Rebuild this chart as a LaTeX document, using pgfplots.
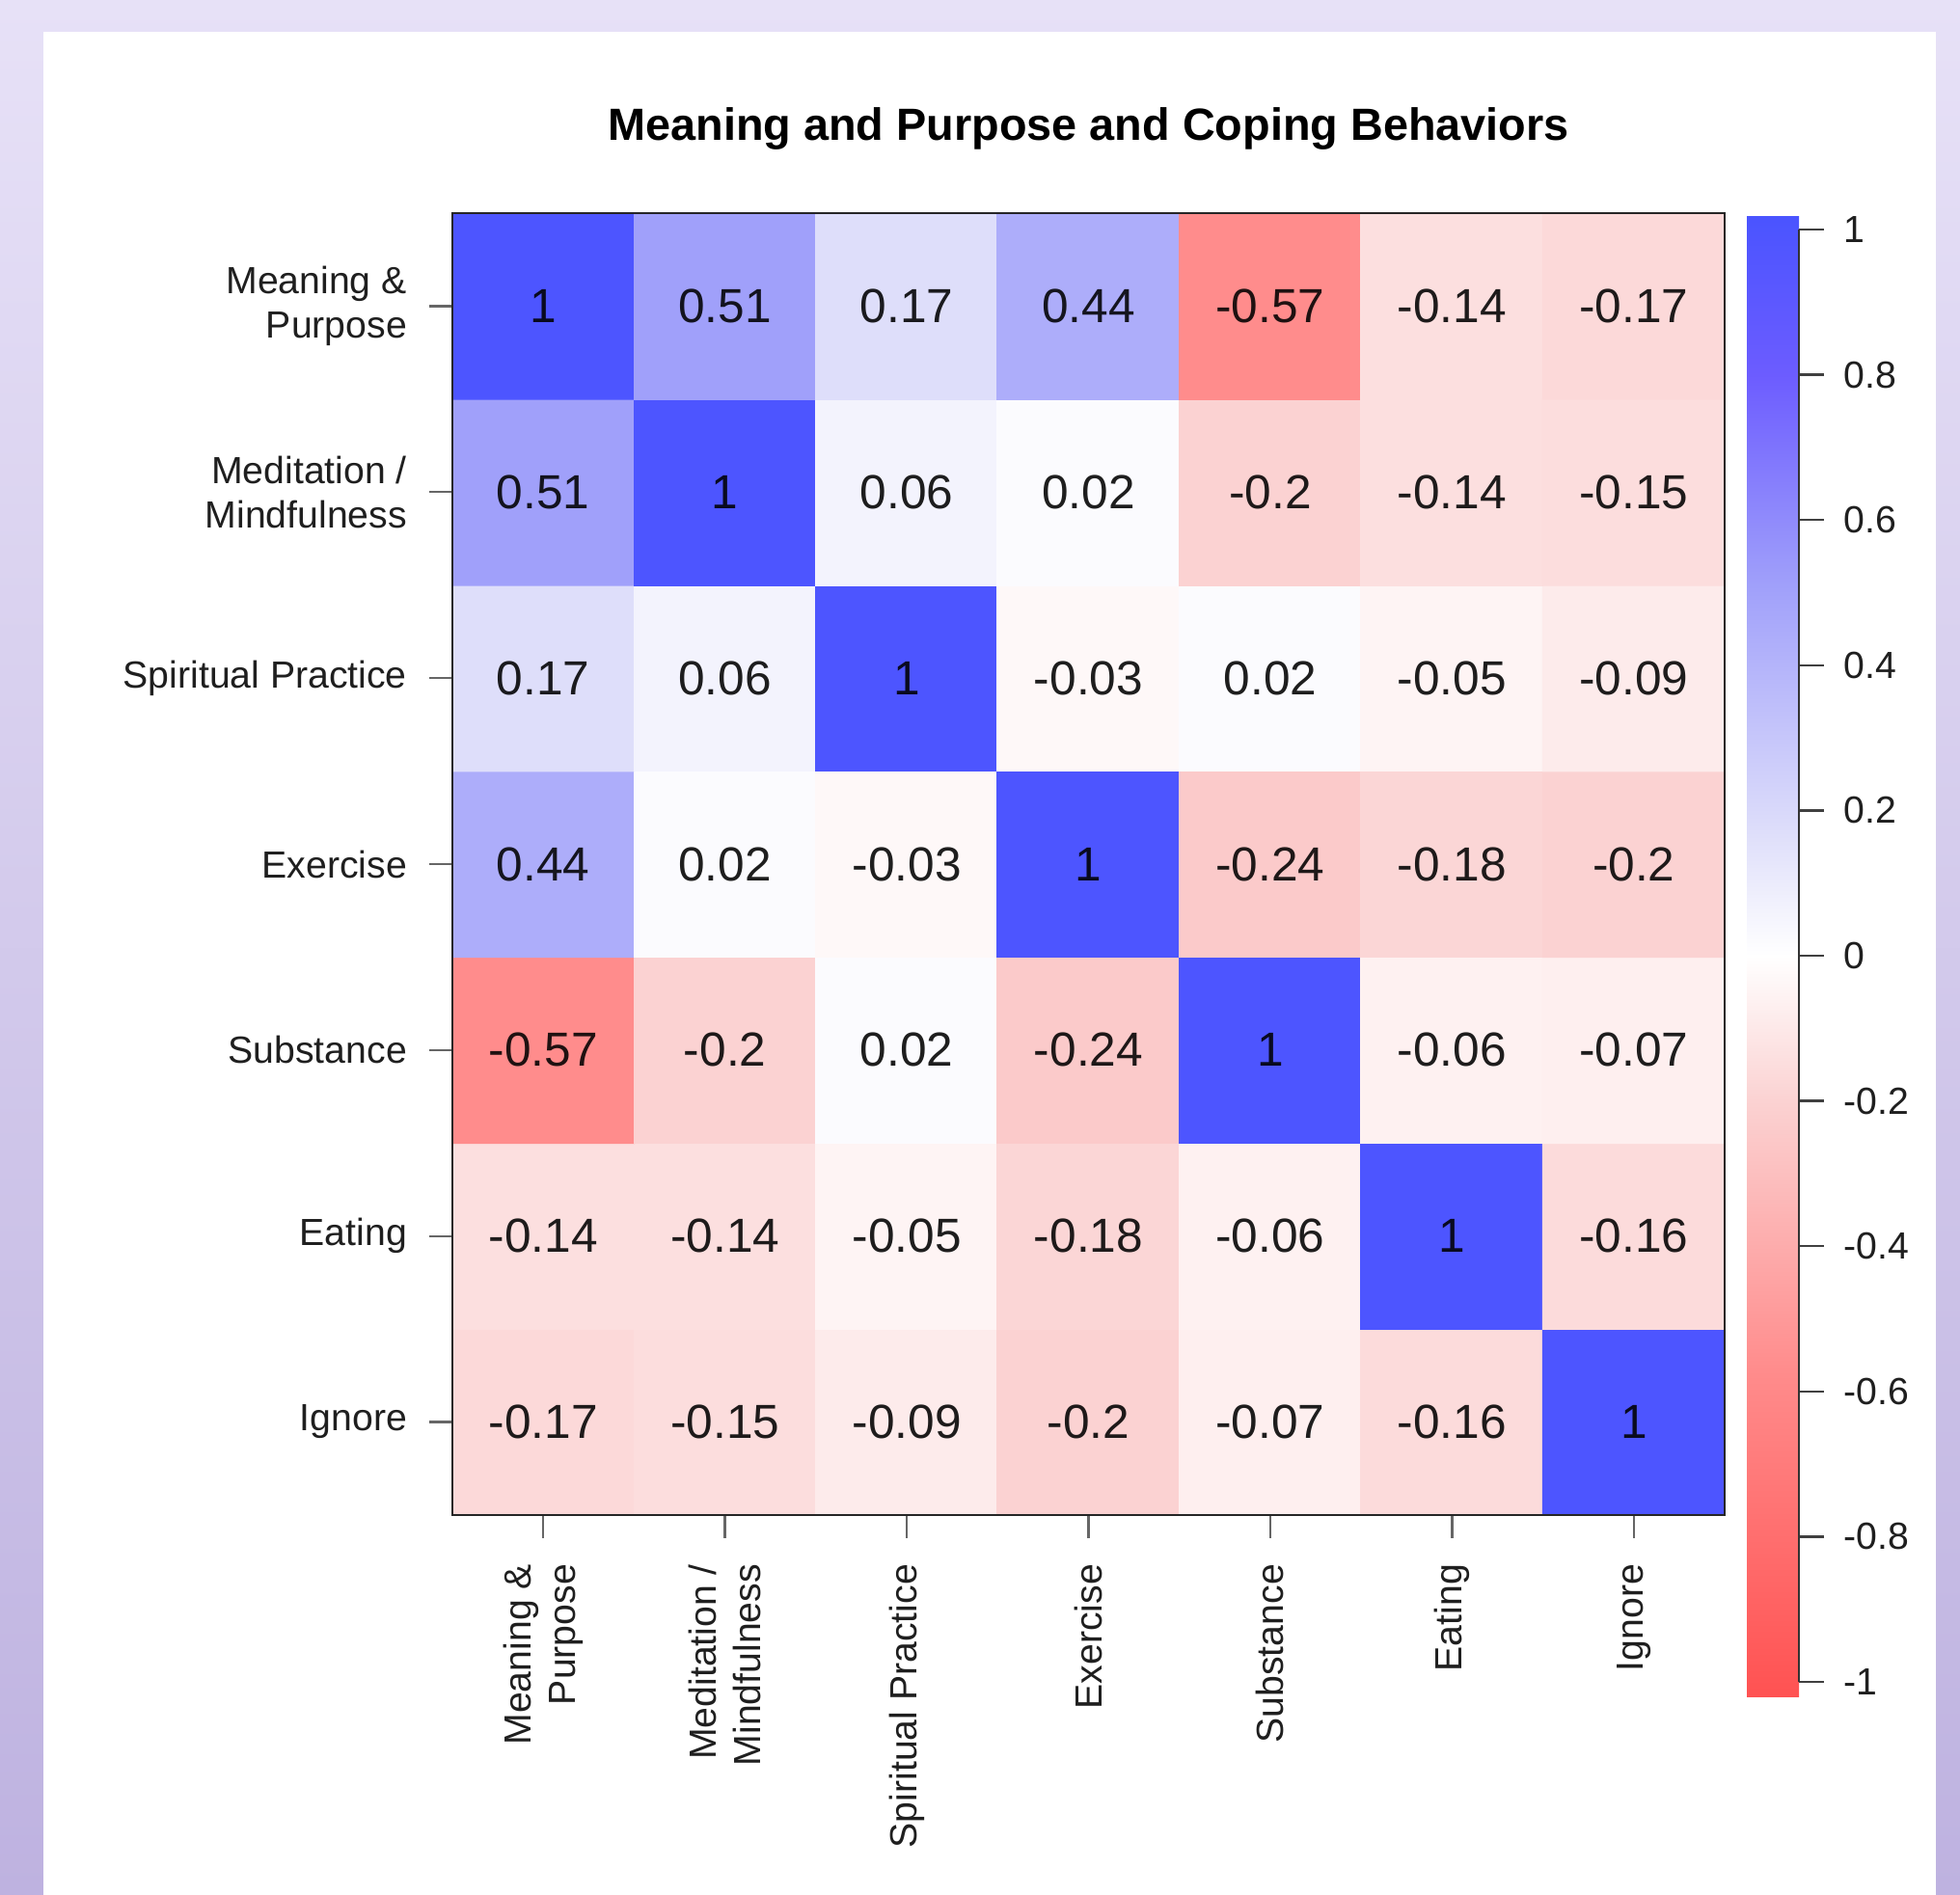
\documentclass[border=0pt]{standalone}
\usepackage{pgfplots}
\pgfplotsset{compat=1.18}
\usepackage{pgfplotstable}
\usepackage{fontspec}
\setmainfont{Liberation Sans}

\definecolor{bgtop}{RGB}{231,225,247}
\definecolor{bgbot}{RGB}{190,178,224}

% correlation matrix, rows listed from the bottom (Ignore) to the top (Meaning & Purpose)
\pgfplotstableread{
x y c
0 0 -0.17
1 0 -0.15
2 0 -0.09
3 0 -0.2
4 0 -0.07
5 0 -0.16
6 0 1
0 1 -0.14
1 1 -0.14
2 1 -0.05
3 1 -0.18
4 1 -0.06
5 1 1
6 1 -0.16
0 2 -0.57
1 2 -0.2
2 2 0.02
3 2 -0.24
4 2 1
5 2 -0.06
6 2 -0.07
0 3 0.44
1 3 0.02
2 3 -0.03
3 3 1
4 3 -0.24
5 3 -0.18
6 3 -0.2
0 4 0.17
1 4 0.06
2 4 1
3 4 -0.03
4 4 0.02
5 4 -0.05
6 4 -0.09
0 5 0.51
1 5 1
2 5 0.06
3 5 0.02
4 5 -0.2
5 5 -0.14
6 5 -0.15
0 6 1
1 6 0.51
2 6 0.17
3 6 0.44
4 6 -0.57
5 6 -0.14
6 6 -0.17
}\corrdata

\newcommand\ticksize{\fontsize{9.8}{11.5}\selectfont}
\newcommand\cellsize{\fontsize{12.4}{14}\selectfont}

\begin{document}
\begin{tikzpicture}
\useasboundingbox (0,0) rectangle (508pt,491.25pt);
\shade[top color=bgtop, bottom color=bgbot] (0,0) rectangle (508pt,491.25pt);
\fill[white] (11.25pt,0) rectangle (501.75pt,483pt);

\begin{axis}[
  at={(117.25pt,98.5pt)}, anchor=south west,
  scale only axis, width=329.75pt, height=337.5pt,
  xmin=-0.5, xmax=6.5, ymin=-0.5, ymax=6.5,
  axis on top,
  xtick={0,...,6}, ytick={0,...,6},
  xticklabels={{Meaning \&\\Purpose},{Meditation /\\Mindfulness},{Spiritual Practice},Exercise,Substance,Eating,Ignore},
  yticklabels={Ignore,Eating,Substance,Exercise,{Spiritual Practice},{Meditation /\\Mindfulness},{Meaning \&\\Purpose}},
  tick pos=left, tick align=outside, major tick length=6pt,
  tick style={black!60, line width=0.6pt},
  axis line style={black!85, line width=0.6pt},
  xticklabel shift=3.25pt, yticklabel shift=2.25pt,
  xticklabel style={rotate=90, anchor=east, align=right, font=\ticksize, text=black!88},
  yticklabel style={align=right, font=\ticksize, text=black!88},
  every axis title/.style={at={(0.5,1)}, anchor=base, yshift=18.75pt,
    font=\fontsize{11.7}{14}\selectfont\bfseries},
  title={Meaning and Purpose and Coping Behaviors},
  colormap={corr}{
    rgb255(-102)=(255,82,82)
    rgb255(-57)=(255,140,140)
    rgb255(-20)=(251,210,210)
    rgb255(0)=(255,255,255)
    rgb255(17)=(222,222,250)
    rgb255(51)=(160,160,250)
    rgb255(80)=(108,92,255)
    rgb255(102)=(74,84,255)},
  point meta min=-1.02, point meta max=1.02,
  colorbar right,
  colorbar style={
    at={(parent axis.north east)}, anchor=north west,
    xshift=-2.75pt, yshift=-0.5pt,
    scale only axis, width=13.5pt, height=384pt,
    ytick={-1,-0.8,-0.6,-0.4,-0.2,0,0.2,0.4,0.6,0.8,1},
    yticklabels={-1,-0.8,-0.6,-0.4,-0.2,0,0.2,0.4,0.6,0.8,1},
    ytick pos=right, tick align=outside, major tick length=6.5pt,
    tick style={black!75, line width=0.6pt},
    axis line style={draw=none},
    yticklabel shift=1.6pt,
    yticklabel style={font=\ticksize, text=black!88, anchor=west},
    after end axis/.code={
      \draw[black!80, line width=0.6pt]
        (rel axis cs:1,0.0098) -- (rel axis cs:1,0.9902);
    },
  },
]
\addplot[matrix plot*, mesh/cols=7, point meta=explicit]
  table[x=x, y=y, meta=c] {\corrdata};
\addplot[only marks, mark=*, mark options={draw opacity=0, fill opacity=0},
  point meta=explicit symbolic,
  nodes near coords, nodes near coords align={center},
  every node near coord/.append style={anchor=center, font=\cellsize,
    text=black, text opacity=0.88}]
  table[x=x, y=y, meta=c] {\corrdata};
\end{axis}
\end{tikzpicture}
\end{document}
